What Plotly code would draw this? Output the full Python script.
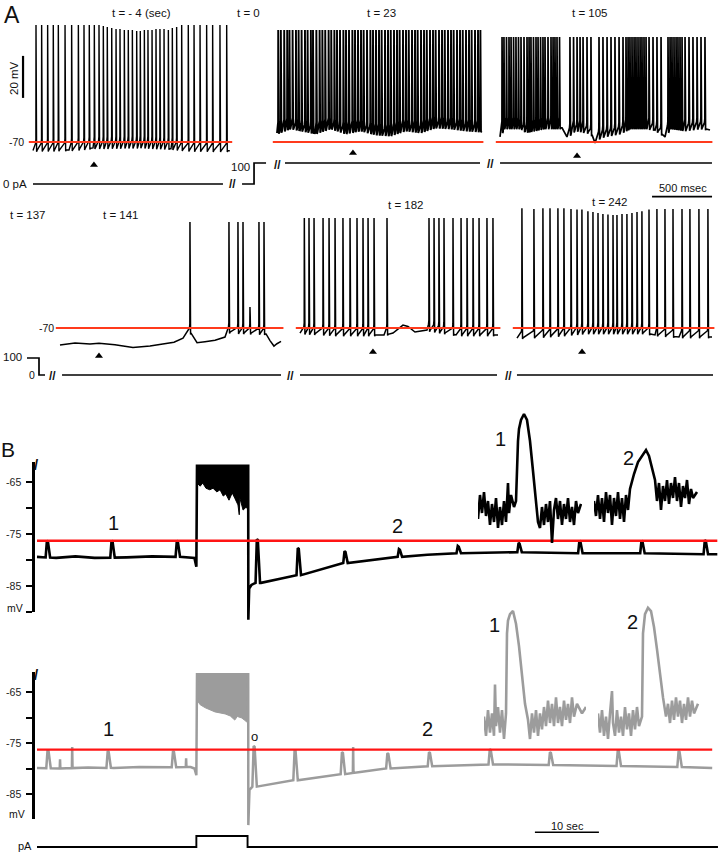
import numpy as np
import plotly.graph_objects as go

# =====================================================================
# DATA
# =====================================================================

# ---------- Panel A, top row (time: ms from start of excerpt, voltage: mV)
# t = -4 s  (0 pA)
p1_spk = [25, 72, 122, 169, 211, 267, 322, 378, 425, 469, 511, 550, 586, 619,
          656, 692, 725, 761, 794, 828, 864, 894, 928, 958, 992, 1025, 1058,
          1092, 1128, 1161, 1197, 1239, 1294, 1342, 1392, 1447, 1497, 1558, 1614]
p1_pk = [-14.3, -14.3, -14.3, -14.3, -14.3, -14.3, -14.3, -14.3, -14.3, -14.3,
         -14.3, -14.3, -14.8, -15.2, -15.7, -16.2, -16.2, -16.7, -16.7, -16.7,
         -17.1, -17.1, -16.7, -16.7, -16.7, -16.2, -16.2, -16.2, -16.7, -15.7,
         -15.2, -14.3, -14.3, -14.3, -14.3, -14.3, -14.3, -14.3, -14.3]
p1_kt = [0, 300, 500, 900, 1150, 1300, 1640]
p1_kv = [-74.0, -73.8, -72.8, -72.4, -73.2, -74.0, -74.2]

# t = 23 s  (100 pA)
p2_spk = [10, 32, 60, 85, 104, 130, 158, 180, 205, 233, 255, 282, 300, 328, 355,
          378, 402, 430, 452, 478, 500, 525, 553, 575, 600, 628, 650, 675, 700,
          722, 750, 778, 800, 825, 850, 872, 900, 925, 948, 975, 1000, 1022, 1050,
          1075, 1098, 1125, 1150, 1172, 1200, 1225, 1248, 1275, 1300, 1322, 1350,
          1375, 1398, 1425, 1450, 1472, 1500, 1525, 1548, 1575, 1600, 1622, 1650,
          1675, 1695]
p2_pk = -16.7
p2_kt = [0, 108, 192, 317, 442, 567, 692, 817, 942, 1067, 1192, 1317, 1442, 1567, 1700]
p2_kv = [-65.7, -63.3, -64.3, -65.7, -63.3, -65.7, -64.3, -66.2, -66.7, -64.3,
         -65.2, -62.9, -63.3, -64.3, -64.8]

# t = 105 s
p3_spk = [17, 33, 54, 75, 92, 113, 133, 154, 175, 200, 225, 242, 258, 279, 300,
          317, 338, 358, 375, 400, 425, 442, 458, 475, 496, 583, 613, 642, 667,
          692, 725, 758, 825, 858, 892, 925, 958, 992, 1025, 1050, 1067, 1083,
          1100, 1117, 1133, 1150, 1167, 1183, 1200, 1217, 1242, 1275, 1308, 1342,
          1400, 1417, 1433, 1450, 1467, 1483, 1500, 1517, 1542, 1575, 1608, 1642,
          1675, 1708]
p3_pk = -20.0
p3_kt = [0, 30, 165, 210, 370, 517, 558, 625, 750, 792, 833, 1000, 1083, 1217,
         1292, 1375, 1417, 1542, 1667, 1750]
p3_kv = [-67.6, -63.3, -63.3, -65.2, -63.3, -63.3, -67.6, -64.3, -65.7, -70.5,
         -67.6, -65.7, -63.3, -63.3, -64.3, -67.6, -63.3, -64.3, -63.3, -64.3]

# ---------- Panel A, bottom row
# t = 137 / 141 s (current stepped back to 0)
p4_spk = [1083, 1408, 1483, 1525, 1583, 1658, 1700]
p4_pk = [-19.5, -19.5, -19.5, -19.5, -60.0, -19.5, -19.5]
p4_kt = [0, 125, 250, 325, 458, 608, 750, 875, 933, 950, 1025, 1067, 1108, 1142,
         1208, 1292, 1375, 1400, 1717, 1750, 1783, 1808, 1842]
p4_kv = [-78.1, -77.1, -77.6, -77.3, -78.0, -79.3, -78.6, -77.6, -77.2, -76.8,
         -74.8, -71.5, -74.0, -77.0, -76.5, -75.8, -74.3, -72.0, -72.8, -76.0,
         -78.6, -77.5, -76.4]

# t = 182 s
p5_spk = [36, 75, 117, 192, 242, 292, 358, 417, 475, 525, 567, 617, 725, 1075,
          1117, 1158, 1200, 1275, 1342, 1392, 1442, 1492, 1558, 1608]
p5_pk = -17.6
p5_kt = [0, 300, 700, 775, 858, 900, 958, 1025, 1058, 1300, 1650]
p5_kv = [-72.4, -73.3, -73.3, -72.4, -68.6, -69.3, -71.9, -71.4, -71.0, -73.3, -73.3]

# t = 242 s
p6_spk = [41, 141, 216, 275, 341, 391, 450, 500, 541, 591, 633, 675, 716, 758,
          800, 833, 875, 916, 958, 1000, 1041, 1100, 1166, 1233, 1300, 1375,
          1441, 1516, 1591]
p6_pk = [-13.0, -13.3, -13.0, -13.0, -13.0, -13.0, -13.3, -13.6, -13.6, -14.4,
         -14.8, -15.2, -15.7, -16.0, -16.2, -16.2, -15.7, -15.7, -15.2, -14.8,
         -14.4, -13.6, -13.3, -13.3, -13.3, -13.3, -13.3, -13.3, -13.3]
p6_kt = [0, 150, 400, 550, 1050, 1150, 1350, 1625]
p6_kv = [-74.8, -74.3, -73.3, -72.4, -72.4, -73.3, -74.3, -74.3]

# arrowheads (time ms within excerpt, mV level)
arrow_ms = [508, 633, 642, 325, 608, 542]
arrow_mv = [-81.0, -75.2, -76.7, -83.3, -81.4, -81.4]

# injected current, schematic rows (row time ms, pA); None = break
iA1_t = [275, 1858, None, 2017, 2117, 2117, 2217, None, 2375, 4000, None, 4167, 5933]
iA1_pa = [0, 0, None, 0, 0, 100, 100, None, 100, 100, None, 100, 100]
iA2_t = [225, 325, 325, 375, None, 517, 2342, None, 2500, 4142, None, 4308, 5942]
iA2_pa = [100, 100, 0, 0, None, 0, 0, None, 0, 0, None, 0, 0]

ref_mv_A = -70.0
bar_mv = 20.0       # vertical scale bar
bar_ms = 500.0      # horizontal scale bar

# ---------- Panel B (time: s, voltage: mV)
red_B = -76.3
# upper (black) trace: baseline knots incl. step edges
bU_kt = [0, 3, 6, 9, 14, 18, 22, 24.6, 24.9, 25.0, 33.0, 33.02, 33.15, 33.5, 34.0,
         35.0, 38.0, 40.5, 44.0, 48.0, 52.0, 56.6, 61.0, 65.8, 70.0, 75.3, 80.0,
         84.8, 90.0, 94.5, 100.0, 104.4, 106.3]
bU_kv = [-79.4, -79.6, -79.3, -79.6, -79.5, -79.3, -79.4, -79.6, -81.3, -61.9,
         -61.9, -91.5, -85.5, -84.8, -84.4, -84.4, -83.6, -83.0, -82.0, -80.6,
         -80.0, -79.4, -79.0, -78.7, -78.6, -78.5, -78.6, -78.7, -78.7, -78.7,
         -78.8, -78.9, -78.9]
bU_ev_t = [1.6, 11.7, 21.9, 34.4, 40.8, 48.1, 56.6, 65.8, 75.3, 84.8, 94.5, 104.4]
bU_ev_pk = [-76.3, -76.3, -76.3, -76.0, -77.7, -78.3, -77.9, -77.3, -76.7, -76.3,
            -76.3, -76.2]
bU_top = -61.9
bU_floor_t = [25.0, 25.5, 25.9, 26.4, 27.0, 27.5, 28.1, 28.6, 29.1, 29.5, 30.0,
              30.5, 30.9, 31.4, 31.6, 31.7, 32.2, 32.7, 33.0]
bU_floor_v = [-65.2, -65.8, -65.2, -66.2, -66.5, -66.2, -66.9, -66.5, -67.7,
              -67.3, -68.5, -67.1, -68.1, -69.4, -71.3, -68.1, -70.4, -69.8, -70.4]

# lower (grey) trace
bL_kt = [0, 4, 8, 12, 16, 20, 24, 24.6, 24.9, 25.0, 33.0, 33.02, 33.2, 33.6, 35.0,
         40.3, 45.0, 50.5, 54.8, 60.0, 70.8, 80.0, 90.8, 100.0, 105.5]
bL_kv = [-79.9, -80.0, -79.8, -79.9, -79.7, -79.8, -79.7, -80.0, -81.3, -61.5,
         -61.5, -91.1, -84.2, -83.6, -83.4, -82.3, -81.5, -80.7, -80.0, -79.6,
         -79.2, -79.3, -79.5, -79.7, -79.9]
bL_ev_t = [1.7, 11.1, 21.3, 33.9, 40.3, 47.7, 54.8, 61.3, 70.8, 80.2, 90.8, 100.3]
bL_ev_pk = [-76.4, -76.6, -76.6, -75.6, -76.4, -76.8, -77.0, -76.8, -76.2, -76.8,
            -76.4, -76.6]
bL_sp_t = [3.6, 5.5, 23.3, 49.4]
bL_sp_pk = [-78.2, -75.8, -78.0, -75.8]
bL_top = -61.5
bL_floor_t = [25.0, 25.5, 26.3, 27.0, 27.8, 28.6, 29.4, 30.2, 30.9, 31.3, 32.0,
              32.4, 32.8, 33.0]
bL_floor_v = [-66.6, -67.5, -68.1, -68.5, -68.9, -69.1, -69.3, -69.7, -70.5,
              -69.8, -70.1, -70.5, -70.9, -70.9]

# current under panel B (s, pA)
iB_t = [0, 24.9, 24.9, 32.9, 32.9, 106.4]
iB_pa = [0, 0, 100, 100, 0, 0]
bar_s = 10.0

# expanded insets of events 1 and 2 (s, mV)
iu1_t = [0.00, 0.02, 0.04, 0.06, 0.08, 0.10, 0.12, 0.14, 0.16, 0.18, 0.20, 0.22,
         0.24, 0.26, 0.28, 0.30, 0.31, 0.33, 0.36, 0.38, 0.40, 0.41, 0.43, 0.46,
         0.49, 0.52, 0.55, 0.58, 0.60, 0.62, 0.64, 0.66, 0.68, 0.70, 0.72, 0.74,
         0.76, 0.78, 0.80, 0.82, 0.84, 0.86, 0.88, 0.90, 0.92, 0.94, 0.96, 0.98,
         1.00, 1.03]
iu1_v = [-79.8, -79.0, -79.6, -78.9, -79.7, -79.2, -80.0, -79.3, -79.9, -79.1,
         -80.1, -79.4, -80.0, -79.2, -79.9, -78.6, -79.6, -79.0, -79.4, -79.2,
         -77.2, -76.8, -76.5, -76.3, -76.5, -77.2, -78.2, -79.2, -79.9, -80.1,
         -79.4, -80.0, -79.3, -79.9, -79.2, -80.6, -79.5, -79.1, -79.8, -79.2,
         -80.0, -79.3, -79.8, -79.1, -79.9, -79.4, -80.0, -79.2, -79.6, -79.3]
iu2_t = [0.00, 0.02, 0.04, 0.06, 0.08, 0.10, 0.12, 0.14, 0.16, 0.18, 0.20, 0.22,
         0.24, 0.26, 0.28, 0.30, 0.32, 0.34, 0.36, 0.40, 0.44, 0.48, 0.52, 0.55,
         0.58, 0.61, 0.63, 0.65, 0.67, 0.69, 0.71, 0.73, 0.75, 0.77, 0.79, 0.81,
         0.83, 0.85, 0.87, 0.89, 0.91, 0.93, 0.95, 0.97, 0.99, 1.03]
iu2_v = [-79.3, -79.8, -79.1, -79.9, -79.2, -80.0, -79.0, -79.7, -79.1, -80.1,
         -79.2, -79.8, -79.0, -79.9, -79.2, -80.0, -79.1, -79.6, -78.9, -78.4,
         -78.0, -77.8, -77.6, -77.8, -78.2, -78.6, -79.3, -78.7, -79.6, -78.8,
         -79.3, -78.6, -79.4, -78.7, -79.2, -78.5, -79.3, -78.7, -79.5, -78.8,
         -79.2, -78.6, -79.4, -78.9, -79.2, -79.0]
il1_t = [0.00, 0.02, 0.04, 0.06, 0.08, 0.10, 0.11, 0.12, 0.14, 0.16, 0.18, 0.20,
         0.22, 0.23, 0.24, 0.26, 0.29, 0.32, 0.35, 0.38, 0.41, 0.44, 0.46, 0.48,
         0.50, 0.52, 0.54, 0.56, 0.58, 0.60, 0.62, 0.64, 0.66, 0.68, 0.70, 0.72,
         0.74, 0.76, 0.78, 0.80, 0.82, 0.84, 0.86, 0.88, 0.90, 0.93, 0.98, 1.02]
il1_v = [-79.6, -80.2, -79.4, -80.1, -79.5, -80.2, -78.6, -79.9, -79.3, -80.1,
         -79.4, -80.3, -79.5, -77.0, -76.6, -76.4, -76.3, -76.7, -77.4, -78.4,
         -79.2, -79.7, -80.3, -79.5, -80.1, -79.4, -80.2, -79.5, -80.0, -79.3,
         -79.9, -79.1, -79.8, -79.2, -79.9, -79.0, -79.8, -79.3, -79.9, -79.1,
         -79.7, -79.2, -79.8, -79.0, -79.6, -79.2, -79.5, -79.3]
il2_t = [0.00, 0.02, 0.04, 0.06, 0.08, 0.10, 0.12, 0.14, 0.15, 0.17, 0.19, 0.21,
         0.23, 0.25, 0.27, 0.29, 0.31, 0.33, 0.35, 0.37, 0.39, 0.41, 0.44, 0.45,
         0.47, 0.50, 0.53, 0.56, 0.59, 0.62, 0.65, 0.68, 0.70, 0.72, 0.74, 0.76,
         0.78, 0.80, 0.82, 0.84, 0.86, 0.88, 0.90, 0.92, 0.94, 0.96, 1.00]
il2_v = [-79.5, -80.1, -79.4, -80.2, -79.6, -80.3, -79.5, -78.8, -79.8, -80.2,
         -79.4, -80.1, -79.6, -80.2, -79.3, -80.0, -79.5, -80.2, -79.4, -80.0,
         -79.3, -79.9, -79.6, -77.0, -76.4, -76.2, -76.3, -76.8, -77.5, -78.3,
         -79.0, -79.6, -79.2, -79.8, -79.1, -79.7, -79.0, -79.6, -79.1, -79.8,
         -79.2, -79.7, -79.0, -79.6, -79.1, -79.5, -79.2]

# =====================================================================
# FIGURE GEOMETRY / STYLE
# =====================================================================
W, H = 718, 853
FONT = "Liberation Sans, Arial, Helvetica, sans-serif"
BLACK = "#000000"
GREY = "#9c9c9c"
RED_A = "#ff3a1c"
RED_B = "#ff1414"

fig = go.Figure()
_n = [0]
_layout = {}


def new_axes(xpx, ypx, xr, yr, yextra=None):
    _n[0] += 1
    n = _n[0]
    s = "" if n == 1 else str(n)
    _layout["xaxis" + s] = dict(domain=[xpx[0] / W, xpx[1] / W], range=xr,
                                visible=False, anchor="y" + s, fixedrange=True)
    ya = dict(domain=[1 - ypx[1] / H, 1 - ypx[0] / H], range=yr,
              visible=False, anchor="x" + s, fixedrange=True)
    if yextra:
        ya.update(yextra)
    _layout["yaxis" + s] = ya
    return ("x" + s, "y" + s)


def hr(origin, scale, a, b):
    return [(a - origin) / scale, (b - origin) / scale]


def vr(v0, p0, k, top, bot):
    return [v0 - (bot - p0) / k, v0 + (p0 - top) / k]


def line(ax, x, y, color=BLACK, width=1.3, **kw):
    fig.add_trace(go.Scatter(x=x, y=y, xaxis=ax[0], yaxis=ax[1], mode="lines",
                             line=dict(color=color, width=width),
                             hoverinfo="skip", showlegend=False, **kw))


def spike_trace(spk, peaks, kt, kv, thr):
    spk = np.asarray(spk, float)
    pk = np.broadcast_to(np.asarray(peaks, float), spk.shape)
    kt = np.asarray(kt, float)
    kv = np.asarray(kv, float)
    pts = []
    for t, v in zip(kt, kv):
        if np.abs(spk - t).min() > 9:
            pts.append((t, v))
    for s, p in zip(spk, pk):
        b = float(np.interp(s, kt, kv))
        pts += [(s - 4, b + thr), (s - 1, b + thr + 2), (s, p),
                (s + 2, b + thr + 6), (s + 5, b - 0.6), (s + 9, b)]
    pts.sort()
    x, y = zip(*pts)
    return list(x), list(y)


def event_trace(kt, kv, ev_t, ev_pk, sp_t=(), sp_pk=()):
    kt = np.asarray(kt, float)
    kv = np.asarray(kv, float)
    marks = list(ev_t) + list(sp_t)
    pts = []
    for t, v in zip(kt, kv):
        if not marks or np.abs(np.asarray(marks) - t).min() > 0.55:
            pts.append((t, v))
    for te, p in zip(ev_t, ev_pk):
        b = float(np.interp(te, kt, kv))
        pts += [(te - 0.25, b), (te - 0.05, p), (te + 0.1, p - 0.15), (te + 0.45, b)]
    for te, p in zip(sp_t, sp_pk):
        b = float(np.interp(te, kt, kv))
        pts += [(te - 0.05, b), (te, p), (te + 0.05, b)]
    pts.sort()
    x, y = zip(*pts)
    return list(x), list(y)


# ---------------- Panel A sweeps ----------------
PX_PER_MS = 0.12
PX_PER_MV = 2.1
rows = {1: dict(ref_px=142, ypx=(4, 200)), 2: dict(ref_px=328, ypx=(195, 365))}
panels = [
    dict(spk=p1_spk, pk=p1_pk, kt=p1_kt, kv=p1_kv, thr=3.3, o=33, xpx=(15, 236), row=1, w=1.4),
    dict(spk=p2_spk, pk=p2_pk, kt=p2_kt, kv=p2_kv, thr=3.0, o=277, xpx=(270, 488), row=1, w=1.9),
    dict(spk=p3_spk, pk=p3_pk, kt=p3_kt, kv=p3_kv, thr=3.0, o=500, xpx=(494, 716), row=1, w=1.7),
    dict(spk=p4_spk, pk=p4_pk, kt=p4_kt, kv=p4_kv, thr=2.5, o=60, xpx=(52, 286), row=2, w=1.5),
    dict(spk=p5_spk, pk=p5_pk, kt=p5_kt, kv=p5_kv, thr=3.0, o=300, xpx=(292, 502), row=2, w=1.5),
    dict(spk=p6_spk, pk=p6_pk, kt=p6_kt, kv=p6_kv, thr=3.0, o=517, xpx=(510, 716), row=2, w=1.5),
]
panel_axes = []
for i, p in enumerate(panels):
    r = rows[p["row"]]
    ax = new_axes(p["xpx"], r["ypx"],
                  hr(p["o"], PX_PER_MS, *p["xpx"]),
                  vr(ref_mv_A, r["ref_px"], PX_PER_MV, *r["ypx"]))
    panel_axes.append(ax)
    x, y = spike_trace(p["spk"], p["pk"], p["kt"], p["kv"], p["thr"])
    line(ax, x, y, BLACK, p["w"])
    line(ax, [p["kt"][0] - 35, p["kt"][-1] + 20], [ref_mv_A, ref_mv_A], RED_A, 2.0)
    fig.add_trace(go.Scatter(x=[arrow_ms[i]], y=[arrow_mv[i]], xaxis=ax[0], yaxis=ax[1],
                             mode="markers", hoverinfo="skip", showlegend=False,
                             marker=dict(symbol="triangle-up", size=7, color=BLACK)))

# scale bars (20 mV in first sweep, 500 ms under the t=105 sweep)
line(panel_axes[0], [-83, -83], [-49, -49 + bar_mv], BLACK, 2.2)
line(panel_axes[2], [1767 - bar_ms, 1767], [-96, -96], BLACK, 1.6)

# injected current rows
axI1 = new_axes((0, W), (150, 195), hr(0, PX_PER_MS, 0, W), vr(0, 184, 0.21, 150, 195))
line(axI1, iA1_t, iA1_pa, BLACK, 1.7)
axI2 = new_axes((0, W), (345, 385), hr(0, PX_PER_MS, 0, W), vr(0, 375, 0.17, 345, 385))
line(axI2, iA2_t, iA2_pa, BLACK, 1.7)

# ---------------- Panel B ----------------
PX_PER_S = 6.4
axBU = new_axes((0, W), (455, 625), hr(37, PX_PER_S, 0, W), vr(-65, 482, 5.2, 455, 625))
axBL = new_axes((0, W), (665, 842), hr(37, PX_PER_S, 0, W), vr(-65, 692, 5.1, 665, 842))

# block of spikes during current step (filled)
fig.add_trace(go.Scatter(x=bU_floor_t + [bU_floor_t[-1], bU_floor_t[0]],
                         y=bU_floor_v + [bU_top, bU_top], xaxis=axBU[0], yaxis=axBU[1],
                         mode="lines", fill="toself", fillcolor=BLACK,
                         line=dict(color=BLACK, width=1), hoverinfo="skip", showlegend=False))
x, y = event_trace(bU_kt, bU_kv, bU_ev_t, bU_ev_pk)
line(axBU, x, y, BLACK, 2.6)
line(axBU, [0, bU_kt[-1]], [red_B, red_B], RED_B, 2.4)

fig.add_trace(go.Scatter(x=bL_floor_t + [bL_floor_t[-1], bL_floor_t[0]],
                         y=bL_floor_v + [bL_top, bL_top], xaxis=axBL[0], yaxis=axBL[1],
                         mode="lines", fill="toself", fillcolor=GREY,
                         line=dict(color=GREY, width=1), hoverinfo="skip", showlegend=False))
x, y = event_trace(bL_kt, bL_kv, bL_ev_t, bL_ev_pk, bL_sp_t, bL_sp_pk)
line(axBL, x, y, GREY, 2.5)
line(axBL, [0, bL_kt[-1]], [red_B, red_B], RED_B, 2.4)
line(axBL, [77.8, 77.8 + bar_s], [-92.5, -92.5], BLACK, 1.6)

# axes with ticks (mV)
tick_style = dict(visible=True, showline=True, linecolor=BLACK, linewidth=2.6,
                  ticks="outside", ticklen=6, tickwidth=2, tickcolor=BLACK,
                  showgrid=False, zeroline=False,
                  tickvals=[-90, -85, -80, -75, -70, -65],
                  ticktext=["", "-85", "", "-75", "", "-65"],
                  tickfont=dict(family=FONT, size=10.5, color="#222"),
                  ticklabelstandoff=3)
for ypx, ref_px, k in [((462, 612), 482, 5.2), ((672, 819), 692, 5.1)]:
    axT = new_axes((35, 45), ypx, [0, 1], vr(-65, ref_px, k, *ypx), tick_style)
    fig.add_trace(go.Scatter(x=[], y=[], xaxis=axT[0], yaxis=axT[1], mode="lines",
                             hoverinfo="skip", showlegend=False))

# current under B
axIB = new_axes((0, W), (825, 853), hr(37, PX_PER_S, 0, W), vr(0, 847, 0.11, 825, 853))
line(axIB, iB_t, iB_pa, BLACK, 1.9)

# insets
ax = new_axes((478, 582), (395, 552), hr(478, 100, 478, 582), vr(-79.5, 510, 30, 395, 552))
line(ax, iu1_t, iu1_v, BLACK, 2.6)
ax = new_axes((594, 701), (395, 552), hr(594, 100, 594, 701), vr(-79.5, 507, 30, 395, 552))
line(ax, iu2_t, iu2_v, BLACK, 2.6)
ax = new_axes((484, 586), (595, 760), hr(484, 100, 484, 586), vr(-79.8, 723, 32, 595, 760))
line(ax, il1_t, il1_v, GREY, 2.6)
ax = new_axes((598, 700), (595, 760), hr(598, 100, 598, 700), vr(-79.8, 723, 32, 595, 760))
line(ax, il2_t, il2_v, GREY, 2.6)

# ---------------- text ----------------
labels = [
    ("t = - 4 (sec)", 141, 13, 11.5), ("t = 0", 248, 13, 11.5),
    ("t = 23", 381, 13, 11.5), ("t = 105", 590, 13, 11.5),
    ("-70", 16, 142, 10.5), ("0 pA", 15, 184, 11.5), ("100", 240, 167, 11.5),
    ("500 msec", 683, 188, 11), ("t = 137", 28, 215, 11.5), ("t = 141", 121, 215, 11.5),
    ("t = 182", 406, 205, 11.5), ("t = 242", 610, 202, 11.5), ("-70", 46, 328, 10.5),
    ("100", 12, 357, 11.5), ("0", 32, 375, 10.5),
    ("B", 8, 450, 21), ("1", 113, 523, 20), ("2", 398, 526, 20), ("1", 500, 439, 20),
    ("2", 628, 458, 20), ("mV", 15, 608, 10.5), ("mV", 17, 814, 10.5),
    ("1", 108, 729, 20), ("2", 427, 729, 20), ("o", 254, 736, 13),
    ("1", 494, 625, 20), ("2", 632, 622, 20), ("10 sec", 567, 826, 11), ("pA", 25, 846, 11),
    ("<b>//</b>", 232, 184, 12), ("<b>//</b>", 277, 165, 12), ("<b>//</b>", 490, 164, 12),
    ("<b>//</b>", 52, 376, 12), ("<b>//</b>", 290, 376, 12), ("<b>//</b>", 508, 376, 12),
    ("<b>/</b>", 36, 464, 15), ("<b>/</b>", 36, 674, 15),
]
annotations = [dict(x=12 / W, y=1.0, xref="paper", yref="paper", text="A",
                    showarrow=False, xanchor="center", yanchor="top",
                    font=dict(family=FONT, size=23, color="#111"))]
for text, px, py, size in labels:
    annotations.append(dict(x=px / W, y=1 - py / H, xref="paper", yref="paper", text=text,
                            showarrow=False, xanchor="center", yanchor="middle",
                            font=dict(family=FONT, size=size, color="#111")))
annotations.append(dict(x=14 / W, y=1 - 78 / H, xref="paper", yref="paper", text="20 mV",
                        showarrow=False, textangle=-90, xanchor="center", yanchor="middle",
                        font=dict(family=FONT, size=11.5, color="#111")))

fig.update_layout(width=W, height=H, margin=dict(l=0, r=0, t=0, b=0, pad=0),
                  paper_bgcolor="white", plot_bgcolor="rgba(0,0,0,0)",
                  showlegend=False, annotations=annotations, **_layout)

fig.write_html("out.html", include_plotlyjs=True,
               config={"displayModeBar": False, "staticPlot": True},
               post_script="document.body.style.margin='0';"
                           "document.body.style.overflow='hidden';")
